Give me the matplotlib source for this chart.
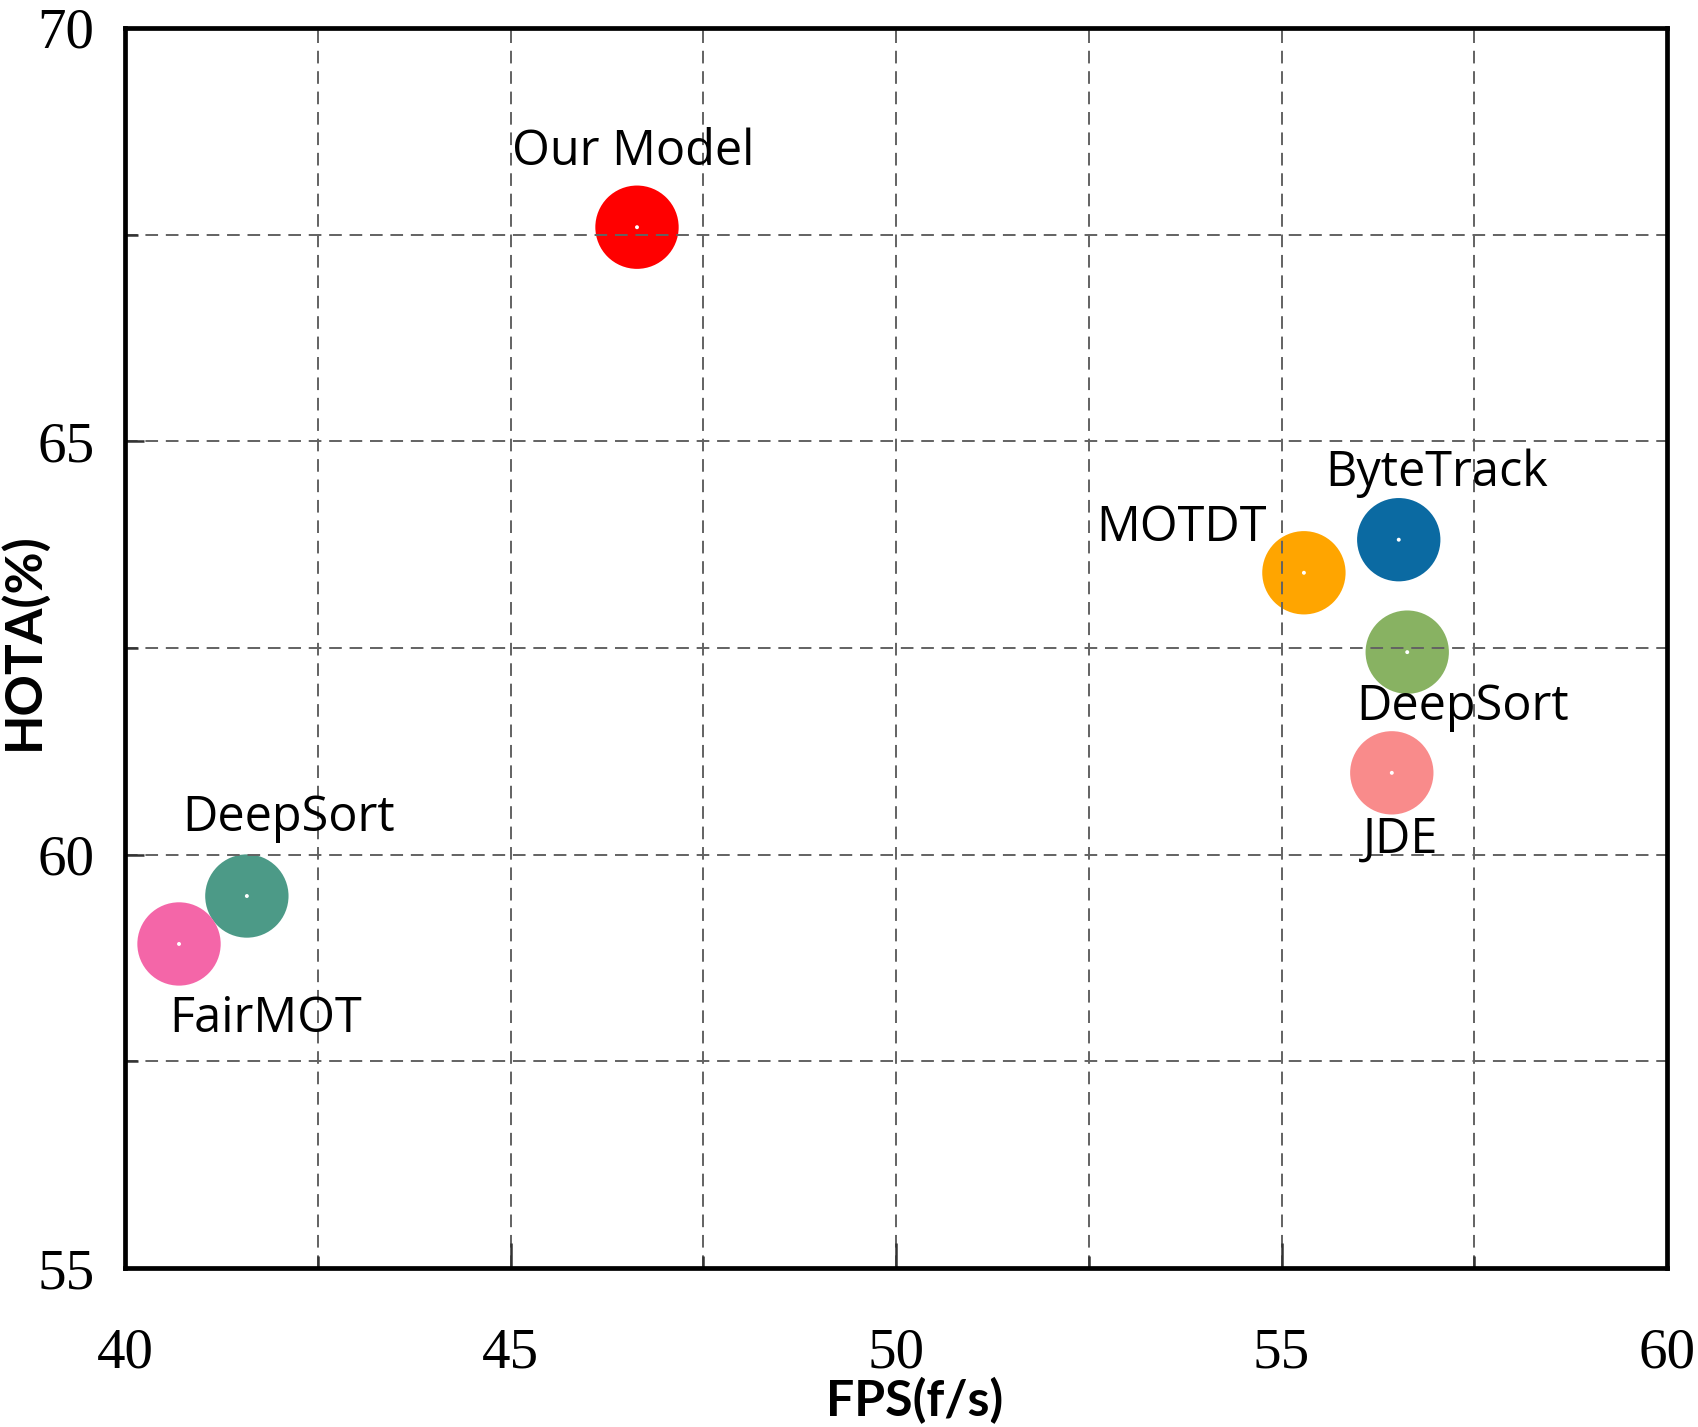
import matplotlib
matplotlib.use("Agg")
import matplotlib.pyplot as plt
from matplotlib.ticker import MultipleLocator

# ---- data ----
methods = ["Our Model", "MOTDT", "ByteTrack", "DeepSort", "JDE", "DeepSort", "FairMOT"]
fps = [46.64, 55.29, 56.52, 56.63, 56.43, 41.58, 40.70]
hota = [67.59, 63.41, 63.81, 62.45, 60.99, 59.50, 58.92]
colors = ["#FF0000", "#FFA500", "#0B6AA2", "#88B262", "#F98B8B", "#4C9A87", "#F466A8"]
x_ticks = [40, 45, 50, 55, 60]
y_ticks = [55, 60, 65, 70]

# label offsets in points (style / layout)
label_offsets = [(-3, 54), (-88, 32), (27, 48), (40, -40), (6, -48), (30, 56), (62, -54)]

fig = plt.figure(figsize=(16.99, 14.27), dpi=100)
ax = fig.add_axes([0.0736, 0.1114, 0.9076, 0.869])

ax.scatter(fps, hota, s=3600, c=colors, edgecolors="none", zorder=2)
ax.scatter(fps, hota, s=8, c="white", edgecolors="none", zorder=4)

for name, x, y, off in zip(methods, fps, hota, label_offsets):
    ax.annotate(name, (x, y), xytext=off, textcoords="offset points",
                ha="center", va="center", fontsize=35, family="Open Sans",
                color="black", zorder=5)

ax.set_xlim(40, 60)
ax.set_ylim(55, 70)
ax.set_xticks(x_ticks)
ax.set_yticks(y_ticks)
ax.set_xticklabels([str(v) for v in x_ticks])
ax.set_yticklabels([str(v) for v in y_ticks])
ax.xaxis.set_minor_locator(MultipleLocator(2.5))
ax.yaxis.set_minor_locator(MultipleLocator(2.5))

for lab in ax.get_xticklabels() + ax.get_yticklabels():
    lab.set_family("Liberation Serif")
    lab.set_fontsize(41)

ax.tick_params(axis="x", which="major", direction="in", length=18, width=1.8, pad=43, color="#333333")
ax.tick_params(axis="y", which="major", direction="in", length=14, width=1.8, pad=22, color="#333333")
ax.tick_params(which="minor", direction="in", length=9, width=1.8, color="#333333")

ax.grid(True, which="both", color="#626262", linewidth=1.4, linestyle=(0, (6.5, 4)), zorder=3)
ax.set_axisbelow(False)
for gl in ax.get_xgridlines() + ax.get_ygridlines():
    gl.set_zorder(3)

for sp in ax.spines.values():
    sp.set_linewidth(3.4)
    sp.set_color("black")
    sp.set_zorder(6)

ax.set_xlabel("FPS(f/s)", fontsize=36, fontweight="bold", family="Lato", va="center")
ax.set_ylabel("HOTA(%)", fontsize=37, fontweight="bold", family="Lato", va="center")
ax.xaxis.set_label_coords(0.512, -0.1065)
ax.yaxis.set_label_coords(-0.066, 0.5056)

fig.savefig("out.png", dpi=100)
